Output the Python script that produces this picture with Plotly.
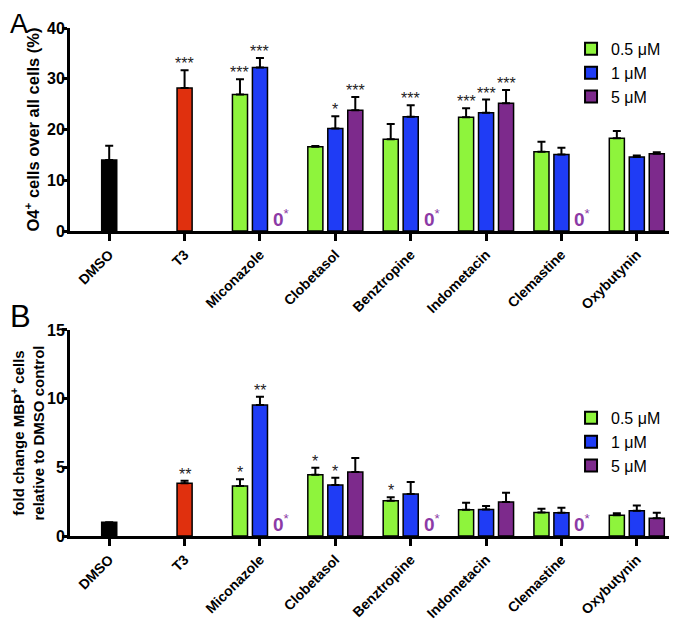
import plotly.graph_objects as go

categories = ["DMSO", "T3", "Miconazole", "Clobetasol", "Benztropine", "Indometacin", "Clemastine", "Oxybutynin"]
doses = ["0.5 μM", "1 μM", "5 μM"]
drugs = categories[2:]

# panel A: O4+ cells over all cells (%)
a_dmso, a_dmso_sem = 14.0, 2.8
a_t3, a_t3_sem = 28.2, 3.5
a_green = [26.9, 16.6, 18.1, 22.4, 15.6, 18.3]
a_green_sem = [3.0, 0.15, 3.0, 1.8, 2.0, 1.4]
a_blue = [32.2, 20.2, 22.5, 23.3, 15.1, 14.6]
a_blue_sem = [1.9, 2.4, 2.3, 2.6, 1.3, 0.3]
a_purple = [None, 23.8, None, 25.2, None, 15.2]
a_purple_sem = [None, 2.6, None, 2.6, None, 0.3]
a_t3_star = "***"
a_stars = [
    ["***", "", "", "***", "", ""],
    ["***", "*", "***", "***", "", ""],
    ["", "***", "", "***", "", ""],
]

# panel B: fold change MBP+ cells relative to DMSO
b_dmso, b_dmso_sem = 1.0, 0.0
b_t3, b_t3_sem = 3.84, 0.18
b_green = [3.64, 4.47, 2.57, 1.92, 1.72, 1.51]
b_green_sem = [0.5, 0.5, 0.25, 0.5, 0.27, 0.14]
b_blue = [9.54, 3.71, 3.06, 1.94, 1.70, 1.84]
b_blue_sem = [0.6, 0.54, 0.87, 0.24, 0.36, 0.39]
b_purple = [None, 4.66, None, 2.48, None, 1.29]
b_purple_sem = [None, 1.02, None, 0.68, None, 0.41]
b_t3_star = "**"
b_stars = [
    ["*", "*", "*", "", "", ""],
    ["**", "*", "", "", "", ""],
    ["", "", "", "", "", ""],
]

DOSE_COLORS = ["#8ef43c", "#1f3cf5", "#7d2a8c"]
ZERO_COLOR = "#8c3aa6"
FONT = "Arial, Liberation Sans, sans-serif"
BAR_W = 0.2
OFFSETS = [-0.365, -0.1, 0.165]

fig = go.Figure()


def err(vals, sems):
    return [s if v is not None else None for v, s in zip(vals, sems)]


def star_note(x, y, text, xa, ya):
    fig.add_annotation(x=x, y=y, text=text, showarrow=False, yanchor="bottom", yshift=-4,
                       font=dict(family=FONT, size=16, color="#222"), xref=xa, yref=ya)


def add_panel(suffix, legend_name, dmso, dmso_sem, t3, t3_sem, series, sems, stars, t3_star):
    xa = "x" if suffix == "" else "x" + suffix
    ya = "y" if suffix == "" else "y" + suffix
    ebar = dict(type="data", symmetric=False, arrayminus=[0], color="black", thickness=2, width=4)
    fig.add_trace(go.Bar(x=[0], y=[dmso], width=BAR_W, offset=-0.1, marker=dict(color="black", line=dict(color="black", width=1.5)),
                         error_y=dict(ebar, array=[dmso_sem]), showlegend=False, xaxis=xa, yaxis=ya))
    fig.add_trace(go.Bar(x=[1], y=[t3], width=BAR_W, offset=-0.1, marker=dict(color="#e0300e", line=dict(color="black", width=1.5)),
                         error_y=dict(ebar, array=[t3_sem]), showlegend=False, xaxis=xa, yaxis=ya))
    star_note(1, t3 + t3_sem, t3_star, xa, ya)
    xs = list(range(2, 2 + len(drugs)))
    for k, (vals, sem, color, name) in enumerate(zip(series, sems, DOSE_COLORS, doses)):
        fig.add_trace(go.Bar(
            x=xs, y=vals, width=BAR_W, offset=OFFSETS[k], name=name,
            marker=dict(color=color, line=dict(color="black", width=1.5)),
            error_y=dict(type="data", symmetric=False, array=err(vals, sem), arrayminus=[0] * len(vals),
                         color="black", thickness=2, width=4),
            legend=legend_name, xaxis=xa, yaxis=ya,
        ))
        center = OFFSETS[k] + BAR_W / 2
        for x, v, s, st in zip(xs, vals, sem, stars[k]):
            if v is None:
                fig.add_annotation(x=x + center, y=0, text="<b>0</b><sup>*</sup>", showarrow=False, yanchor="bottom",
                                   yshift=-1, xshift=1, font=dict(family=FONT, size=19, color=ZERO_COLOR), xref=xa, yref=ya)
            elif st:
                star_note(x + center, v + s, st, xa, ya)


add_panel("", "legend", a_dmso, a_dmso_sem, a_t3, a_t3_sem, [a_green, a_blue, a_purple],
          [a_green_sem, a_blue_sem, a_purple_sem], a_stars, a_t3_star)
add_panel("2", "legend2", b_dmso, b_dmso_sem, b_t3, b_t3_sem, [b_green, b_blue, b_purple],
          [b_green_sem, b_blue_sem, b_purple_sem], b_stars, b_t3_star)

# the page body keeps its default 8px margin, so the figure is 8px smaller each way
xaxis_style = dict(
    range=[-0.52, 7.48], tickmode="array", tickvals=list(range(len(categories))), ticktext=categories,
    tickangle=-45, ticks="outside", ticklen=7, tickwidth=2.5, tickcolor="black",
    showline=True, linecolor="black", linewidth=3, showgrid=False, zeroline=False, automargin=False,
    tickfont=dict(family=FONT, size=14, color="black", weight="bold"), domain=[0.0927, 0.994],
)
yaxis_style = dict(
    ticks="outside", ticklen=5, tickwidth=2.5, tickcolor="black", showline=True, linecolor="black",
    linewidth=3, showgrid=False, zeroline=False, automargin=False, ticklabelstandoff=-6,
    tickfont=dict(family=FONT, size=16, color="black", weight="bold"),
)
legend_style = dict(xanchor="left", yanchor="top", bgcolor="rgba(0,0,0,0)",
                    font=dict(family=FONT, size=16, color="black"), tracegroupgap=0, itemsizing="constant")

fig.update_layout(
    width=669, height=614, margin=dict(l=0, r=0, t=0, b=0),
    plot_bgcolor="white", paper_bgcolor="white", barmode="overlay",
    font=dict(family=FONT, color="black"),
    xaxis=dict(xaxis_style, anchor="y"),
    yaxis=dict(yaxis_style, range=[0, 40], tickvals=[0, 10, 20, 30, 40], domain=[0.6368, 0.9674], anchor="x",
               title=dict(text="O4<sup>+</sup> cells over all cells (%)", standoff=4,
                          font=dict(family=FONT, size=16.5, color="black", weight="bold"))),
    xaxis2=dict(xaxis_style, anchor="y2"),
    yaxis2=dict(yaxis_style, range=[0, 15], tickvals=[0, 5, 10, 15], domain=[0.140, 0.4756], anchor="x2",
                title=dict(text="fold change MBP<sup>+</sup> cells<br>relative to DMSO control", standoff=2,
                           font=dict(family=FONT, size=15, color="black", weight="bold"))),
    legend=dict(legend_style, x=0.8416, y=0.961),
    legend2=dict(legend_style, x=0.8416, y=0.36),
)

fig.add_annotation(x=0.0, y=1.0, xref="paper", yref="paper", text="A", showarrow=False, xanchor="left", yanchor="top",
                   yshift=1, font=dict(family=FONT, size=27, color="black"))
fig.add_annotation(x=0.0, y=0.529, xref="paper", yref="paper", text="B", showarrow=False, xanchor="left", yanchor="top",
                   font=dict(family=FONT, size=31, color="black"))

fig.write_html("out.html")
